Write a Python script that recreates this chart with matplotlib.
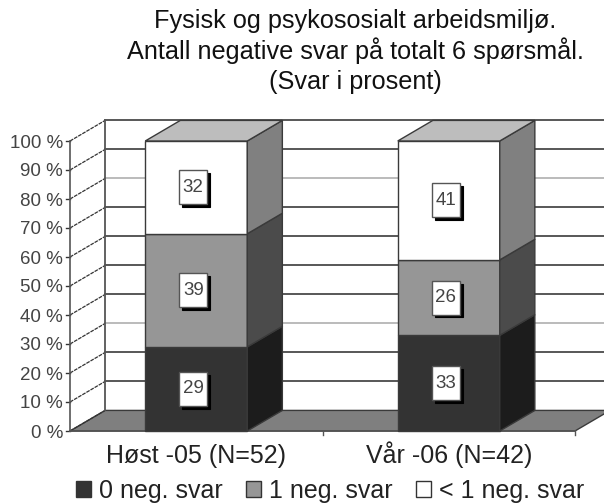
# coding: utf-8
import matplotlib
matplotlib.use('Agg')
import matplotlib.pyplot as plt
from matplotlib.patches import Polygon, Patch, Rectangle

title_lines = ['Fysisk og psykososialt arbeidsmiljø.',
               'Antall negative svar på totalt 6 spørsmål.',
               '(Svar i prosent)']
categories = ['Høst -05 (N=52)', 'Vår -06 (N=42)']
series_names = ['0 neg. svar', '1 neg. svar', '< 1 neg. svar']
values = [
    [29, 33],
    [39, 26],
    [32, 41],
]
front_colors = ['#333333', '#969696', '#ffffff']
side_colors = ['#1c1c1c', '#4b4b4b', '#808080']
top_color = '#bdbdbd'
floor_color = '#7f7f7f'
yticks = list(range(0, 101, 10))

# fake 3d depth, in data units
DX = 0.139
DY = 7.1
BAR_W = 0.404
BOX_W = 0.111
BOX_H = 11.7
LINE = '#3a3a3a'

plt.rcParams['font.family'] = ['Liberation Sans', 'DejaVu Sans']

fig = plt.figure(figsize=(6.04, 5.04), dpi=100)
ax = fig.add_axes([70 / 604, 73 / 504, 505 / 604, 290 / 504])
ax.set_xlim(0, 2)
ax.set_ylim(0, 100)
for s in ax.spines.values():
    s.set_visible(False)


def poly(points, fc, z, ec=LINE, lw=1.0):
    ax.add_patch(Polygon(points, closed=True, fc=fc, ec=ec, lw=lw,
                         zorder=z, clip_on=False))


# walls and floor
poly([(0, 0), (DX, DY), (2 + DX, DY), (2, 0)], floor_color, 1)
for y in yticks:
    grid_col = '#b5b5b5' if y in (30, 80) else '#4a4a4a'
    if y > 0:
        ax.plot([DX, 2 + DX], [y + DY, y + DY], color=grid_col, lw=1.3,
                zorder=1, clip_on=False)
    ax.plot([0, DX], [y, y + DY], color='#333333', lw=0.9, ls=(0, (3, 0.8)),
            zorder=1, clip_on=False)
    ax.plot([-0.016, 0], [y, y], color='#333333', lw=1, zorder=1, clip_on=False)
ax.plot([DX, DX], [DY, 100 + DY], color='#555555', lw=1.3, zorder=1, clip_on=False)
ax.plot([0, 0], [0, 100], color='#555555', lw=1.2, zorder=1, clip_on=False)
ax.plot([0, 2], [0, 0], color='#555555', lw=1.2, zorder=2, clip_on=False)
for x in [1, 2]:
    ax.plot([x, x], [0, -1.5], color='#555555', lw=1, zorder=1, clip_on=False)

# stacked boxes
for i in range(len(categories)):
    x0 = i + 0.5 - BAR_W / 2
    x1 = x0 + BAR_W
    bottom = 0
    for k in range(len(values)):
        v = values[k][i]
        top = bottom + v
        poly([(x0, bottom), (x1, bottom), (x1, top), (x0, top)], front_colors[k], 3)
        poly([(x1, bottom), (x1 + DX, bottom + DY), (x1 + DX, top + DY), (x1, top)],
             side_colors[k], 3)
        mid = bottom + v / 2
        cx = i + 0.488
        # label box with hard shadow behind it
        ax.add_patch(Rectangle((cx - BOX_W / 2 + 0.012, mid - BOX_H / 2 - 1), BOX_W, BOX_H,
                               fc='black', ec='black', lw=0.8, zorder=4))
        ax.add_patch(Rectangle((cx - BOX_W / 2, mid - BOX_H / 2), BOX_W, BOX_H,
                               fc='white', ec='#555555', lw=1, zorder=5))
        ax.text(cx, mid, str(v), ha='center', va='center', fontsize=13.5,
                color='#444444', zorder=6)
        bottom = top
    poly([(x0, bottom), (x1, bottom), (x1 + DX, bottom + DY), (x0 + DX, bottom + DY)],
         top_color, 3)

ax.set_xticks([])
for i in range(len(categories)):
    ax.annotate(categories[i], (i + 0.5, 0), xytext=(0, -23), textcoords='offset points',
                ha='center', va='baseline', fontsize=18, color='#222222',
                annotation_clip=False)
ax.set_yticks(yticks)
ax.set_yticklabels(['%d %%' % y for y in yticks], fontsize=13.5, color='#444444')
ax.tick_params(axis='y', length=0, pad=5)

# separate lines so the baselines stay evenly spaced
for line, base in zip(title_lines, [28, 59, 89]):
    fig.text(355 / 604, 1 - base / 504, line, ha='center', va='baseline',
             fontsize=18.2, color='#111111')

handles = [Patch(fc=front_colors[k], ec='#333333', label=series_names[k])
           for k in range(len(series_names))]
fig.legend(handles=handles, loc='center', ncol=3, frameon=False, fontsize=18,
           bbox_to_anchor=(330 / 604, 1 - 491 / 504), handlelength=0.6,
           handleheight=0.6, handletextpad=0.32, columnspacing=0.92, labelcolor='#222222',
           borderpad=0, borderaxespad=0)

fig.savefig('out.png', dpi=100)
